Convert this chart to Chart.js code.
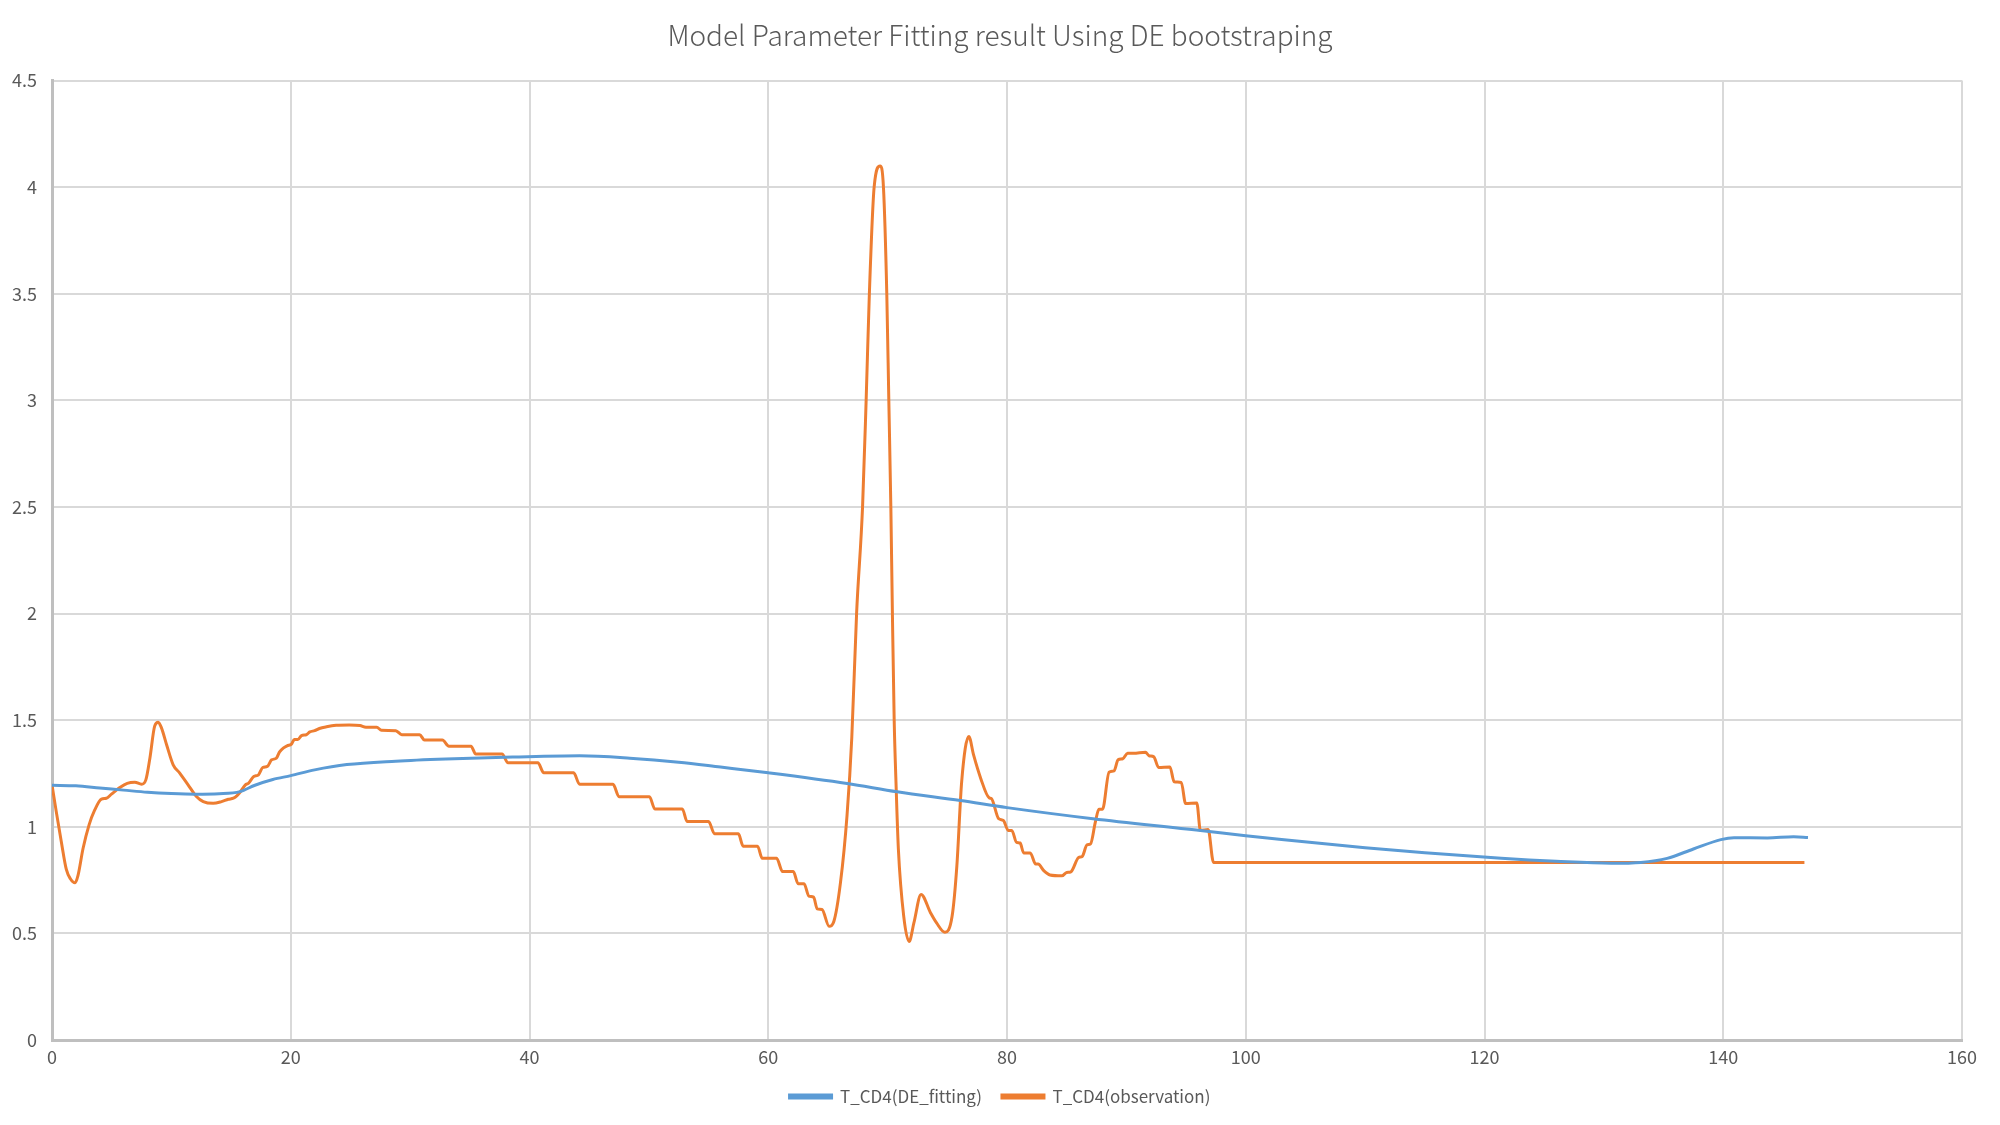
<!DOCTYPE html>
<html>
<head>
<meta charset="utf-8">
<title>Model Parameter Fitting result Using DE bootstraping</title>
<script src="https://cdn.jsdelivr.net/npm/chart.js"></script>
<style>
    html, body { margin: 0; padding: 0; background: #ffffff; }
    #wrap { width: 2000px; height: 1125px; }
</style>
</head>
<body>
<div id="wrap"><canvas id="myChart" width="2000" height="1125"></canvas></div>
<script>
// tick values of both axes
const xTicks = [0, 20, 40, 60, 80, 100, 120, 140, 160];
const yTicks = [0, 0.5, 1, 1.5, 2, 2.5, 3, 3.5, 4, 4.5];

// T_CD4(DE_fitting)
const fitX = [0, 2, 4, 6, 8, 10, 12, 14, 15.75, 17, 18.5, 20, 22, 24.7, 28.8, 33, 38.6, 44.2, 48.4, 52.5,
    56, 60, 66.6, 70.8, 76.1, 80, 87.2, 96.2, 100, 103, 110, 115, 121.4, 126, 130.6, 133.1, 135.3,
    137.5, 139.8, 140.9, 143.7, 145.9, 147.1];
const fitY = [1.195, 1.192, 1.182, 1.172, 1.162, 1.156, 1.153, 1.155, 1.165, 1.195, 1.222, 1.24, 1.267,
    1.292, 1.308, 1.318, 1.327, 1.333, 1.322, 1.303, 1.28, 1.253, 1.203, 1.164, 1.123, 1.09, 1.038,
    0.983, 0.958, 0.94, 0.902, 0.878, 0.852, 0.838, 0.829, 0.833, 0.852, 0.896, 0.94, 0.949, 0.948,
    0.953, 0.95];

// T_CD4(observation)
const obsX = [0, 0.36, 0.78, 1.2, 1.54, 1.93, 2.18, 2.6, 3.1, 3.58, 4.14, 4.56, 4.98, 5.68, 6.3, 6.94,
    7.5, 7.86, 8.2, 8.6, 8.9, 9.17, 9.6, 10.15, 10.7, 11.4, 12.1, 12.67, 13.5, 14.2, 14.77, 15.2, 15.5,
    15.75, 16.2, 16.45, 16.9, 17.3, 17.65, 18.04, 18.4, 18.8, 19.05, 19.4, 19.7, 20.06, 20.3, 20.6,
    20.9, 21.3, 21.6, 22.0, 22.4, 23.0, 23.8, 24.9, 25.8, 26.3, 27.2, 27.6, 28.8, 29.3, 30.8, 31.2,
    32.7, 33.25, 35.1, 35.5, 37.7, 38.2, 40.7, 41.2, 43.7, 44.2, 47.0, 47.5, 50.05, 50.5, 52.8, 53.2,
    55.0, 55.5, 57.5, 57.9, 59.1, 59.5, 60.7, 61.2, 62.1, 62.5, 63.0, 63.4, 63.8, 64.1, 64.5, 65.1,
    65.5, 66.05, 66.6, 67.0, 67.4, 67.9, 68.2, 68.47, 68.87, 69.37, 69.65, 69.93, 70.1, 70.27, 70.4,
    70.55, 70.7, 70.9, 71.35, 71.8, 72.2, 72.8, 73.6, 74.1, 74.8, 75.4, 75.8, 76.2, 76.8, 77.2, 77.8,
    78.5, 78.7, 79.3, 79.7, 80.1, 80.4, 80.8, 81.1, 81.4, 81.95, 82.4, 82.6, 83.1, 83.6, 84.6, 85.0,
    85.35, 86.0, 86.3, 86.7, 87.0, 87.4, 87.7, 88.0, 88.55, 88.97, 89.3, 89.7, 90.1, 90.6, 91.6, 91.9,
    92.3, 92.7, 93.65, 94.0, 94.6, 94.96, 95.9, 96.2, 96.85, 97.3, 120, 146.8];
const obsY = [1.197, 1.07, 0.93, 0.80, 0.756, 0.737, 0.772, 0.898, 1.008, 1.079, 1.13, 1.134, 1.153,
    1.184, 1.204, 1.209, 1.2, 1.22, 1.322, 1.472, 1.49, 1.464, 1.385, 1.291, 1.252, 1.197, 1.142,
    1.118, 1.11, 1.118, 1.129, 1.134, 1.146, 1.162, 1.197, 1.204, 1.236, 1.244, 1.278, 1.283, 1.314,
    1.322, 1.35, 1.37, 1.38, 1.388, 1.409, 1.409, 1.428, 1.432, 1.445, 1.451, 1.461, 1.469, 1.476,
    1.478, 1.475, 1.467, 1.467, 1.453, 1.451, 1.432, 1.432, 1.407, 1.407, 1.378, 1.378, 1.341, 1.341,
    1.30, 1.30, 1.253, 1.253, 1.199, 1.199, 1.141, 1.141, 1.084, 1.084, 1.025, 1.025, 0.967, 0.967,
    0.909, 0.909, 0.852, 0.852, 0.79, 0.79, 0.733, 0.733, 0.675, 0.67, 0.615, 0.612, 0.533, 0.557,
    0.738, 1.054, 1.42, 2.0, 2.5, 3.0, 3.5, 4.0, 4.1, 4.0, 3.5, 3.0, 2.5, 2.0, 1.5, 1.21, 0.896, 0.58,
    0.462, 0.549, 0.683, 0.596, 0.549, 0.505, 0.58, 0.817, 1.21, 1.424, 1.337, 1.227, 1.136, 1.132,
    1.038, 1.03, 0.983, 0.983, 0.927, 0.924, 0.877, 0.877, 0.825, 0.825, 0.793, 0.774, 0.77, 0.786,
    0.789, 0.856, 0.861, 0.915, 0.92, 1.022, 1.082, 1.082, 1.256, 1.262, 1.314, 1.319, 1.345, 1.345,
    1.35, 1.333, 1.328, 1.278, 1.281, 1.211, 1.208, 1.109, 1.112, 0.983, 0.987, 0.833, 0.833, 0.833];

const toPoints = (xs, ys) => xs.map((x, i) => ({ x: x, y: ys[i] }));

const textColor = '#595959';
const fontFamily = "'Noto Sans CJK SC', 'Noto Sans', sans-serif";

var ctx = document.getElementById('myChart').getContext('2d');
var chart = new Chart(ctx, {
    type: 'scatter',
    data: {
        datasets: [
            {
                label: 'T_CD4(DE_fitting)',
                data: toPoints(fitX, fitY),
                showLine: true,
                borderColor: '#5b9bd5',
                backgroundColor: '#5b9bd5',
                borderWidth: 3,
                pointRadius: 0,
                cubicInterpolationMode: 'monotone'
            },
            {
                label: 'T_CD4(observation)',
                data: toPoints(obsX, obsY),
                showLine: true,
                borderColor: '#ed7d31',
                backgroundColor: '#ed7d31',
                borderWidth: 3,
                pointRadius: 0,
                cubicInterpolationMode: 'monotone'
            }
        ]
    },
    options: {
        responsive: false,
        animation: false,
        devicePixelRatio: 1,
        layout: { padding: { left: 0, right: 0, top: 0, bottom: 10 } },
        plugins: {
            title: {
                display: true,
                text: 'Model Parameter Fitting result Using DE bootstraping',
                color: textColor,
                font: { family: fontFamily, size: 28, weight: '300' },
                padding: { top: 19, bottom: 28 }
            },
            legend: {
                position: 'bottom',
                labels: {
                    color: textColor,
                    font: { family: fontFamily, size: 17 },
                    boxWidth: 42,
                    boxHeight: 3,
                    padding: 20
                }
            },
            tooltip: { enabled: false }
        },
        scales: {
            x: {
                type: 'linear',
                min: 0,
                max: 160,
                afterBuildTicks: (s) => { s.ticks = xTicks.map(v => ({ value: v })); },
                afterFit: (s) => { s.height = 28; },
                grid: { color: '#d9d9d9', lineWidth: 2, drawTicks: false },
                border: { color: '#bfbfbf', width: 3 },
                ticks: {
                    color: textColor, font: { family: fontFamily, size: 18 }, padding: 6, maxRotation: 0,
                    callback: (v) => String(v)
                }
            },
            y: {
                type: 'linear',
                min: 0,
                max: 4.5,
                afterBuildTicks: (s) => { s.ticks = yTicks.map(v => ({ value: v })); },
                afterFit: (s) => { s.width = 52; },
                grid: { color: '#d9d9d9', lineWidth: 2, drawTicks: false },
                border: { color: '#bfbfbf', width: 3 },
                ticks: {
                    color: textColor, font: { family: fontFamily, size: 18 }, padding: 15,
                    callback: (v) => String(v)
                }
            },
            // empty right-hand strip, keeps the page margin so title and legend stay centred
            yRight: {
                type: 'linear',
                position: 'right',
                display: true,
                grid: { display: false },
                border: { display: false },
                ticks: { display: false },
                afterFit: (s) => { s.width = 38; }
            }
        }
    }
});
</script>
</body>
</html>
